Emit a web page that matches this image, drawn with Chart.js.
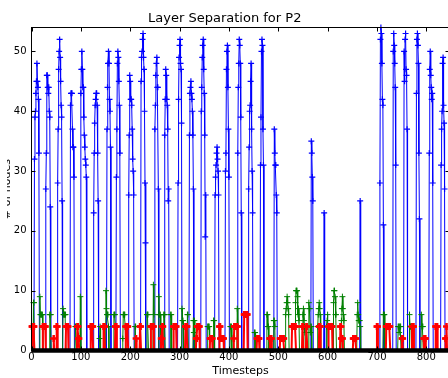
<!DOCTYPE html>
<html>
<head>
<meta charset="utf-8">
<script src="https://cdn.jsdelivr.net/npm/chart.js@4.4.1/dist/chart.umd.min.js"></script>
<style>
  html, body { margin: 0; padding: 0; overflow: hidden; background: #fff; }
  canvas { display: block; }
</style>
</head>
<body>
<canvas id="chart" width="452" height="378"></canvas>
<script>
const FONT = '"DejaVu Sans", "Liberation Sans", sans-serif';
const xMax = 847;
const yMax = 54;
const xTickValues = [0, 100, 200, 300, 400, 500, 600, 700, 800];
const yTickValues = [0, 10, 20, 30, 40, 50];
const yLabel = '# of nodes';

// each run starts at the given timestep and falls back to 0 after its last value
const blueStarts = [6, 29, 53, 79, 100, 126, 153, 172, 197, 222, 250, 270, 297, 320, 344,
  372, 393, 418, 440, 464, 492, 567, 593, 666, 706, 733, 755, 780, 806, 830];
const blueRuns = [
  [32, 39, 40, 43, 45, 48, 45, 44, 42, 33],
  [27, 33, 46, 46, 44, 43, 44, 40, 39, 24],
  [28, 37, 47, 50, 52, 49, 45, 41, 39, 25],
  [41, 43, 43, 43, 37, 34, 34, 29],
  [43, 47, 50, 47, 44, 44, 39, 36, 34, 32, 31, 29],
  [23, 33, 38, 41, 42, 43, 43, 41, 33, 25],
  [37, 44, 48, 50, 48, 42, 40, 34],
  [29, 37, 48, 50, 49, 45, 41, 33],
  [26, 36, 46, 45, 42, 42, 41, 37, 32, 30, 26],
  [45, 49, 50, 52, 53, 49, 47, 40, 28, 18],
  [37, 41, 46, 48, 49, 44, 44, 27],
  [36, 42, 47, 46, 42, 41, 37, 25, 27],
  [28, 42, 49, 51, 52, 48, 47, 38],
  [36, 43, 44, 45, 43, 42, 40, 36, 27],
  [40, 44, 49, 51, 52, 47, 43, 36, 19, 26],
  [26, 29, 31, 33, 34, 32, 30, 26],
  [30, 33, 47, 50, 51, 44, 37, 29],
  [33, 44, 48, 52, 51, 48, 39, 23],
  [27, 34, 40, 41, 45, 48, 37, 30, 23],
  [31, 39, 50, 52, 51, 37, 31],
  [37, 33, 31, 31, 26, 23],
  [35, 33, 29, 25],
  [23],
  [25],
  [28, 52, 54, 53, 48, 42, 41, 21],
  [50, 53, 51, 48, 44, 31],
  [50, 45, 52, 53, 47, 46, 37],
  [43, 52, 53, 51, 48, 33, 22],
  [33, 47, 50, 46, 44, 42, 43, 28],
  [31, 37, 40, 48, 49, 41, 38, 27]
];

const greenStarts = [4, 17, 37, 64, 89, 99, 138, 151, 167, 185, 210, 234, 247, 258, 268, 282,
  305, 316, 328, 357, 369, 403, 417, 452, 477, 491, 515, 535, 550, 562, 580, 598, 612, 628,
  660, 713, 743, 766, 790];
const greenRuns = [
  [8, 8], [9, 6, 6, 6, 6, 6], [6, 6, 6], [7, 6, 6, 6, 6, 6], [4, 4], [9], [2, 4],
  [10, 7, 6, 6, 6, 4], [6, 6, 6, 4], [2, 6, 6, 6, 6, 4], [4, 4], [6, 6, 6], [11, 6],
  [9, 6, 6, 6], [6, 6, 6], [6, 6], [7, 5, 5], [6, 6], [5, 3, 5], [4, 4, 4, 4], [5, 5],
  [4, 4, 4], [7, 4], [3, 3], [6, 6, 4, 4], [5, 5, 4], [6, 7, 8, 9, 8, 7, 6],
  [8, 10, 10, 10, 9, 6, 7, 5], [6, 7, 5, 4, 3], [8, 7, 7, 3, 4, 4], [4, 6, 7, 8, 7, 6],
  [4, 5, 6], [8, 10, 10, 9, 6, 6], [5, 7, 9, 7, 6, 5], [6, 8, 6, 5, 5, 5, 4], [6, 6, 6],
  [4, 4, 3, 4, 4, 4], [6, 4, 4, 4], [6, 4, 4, 4]
];

const redStarts = [1, 23, 45, 51, 70, 93, 120, 146, 170, 191, 212, 220, 242, 263, 288, 312,
  334, 362, 381, 410, 431, 457, 483, 504, 528, 549, 557, 583, 602, 626, 652, 700, 719, 751,
  771, 795, 819, 839];
const redRuns = [
  [4, 4, 4, 4, 4], [4, 4, 4, 4, 4, 4], [2], [4, 4], [4, 4, 4, 4, 4], [4, 4, 2, 2],
  [4, 4, 4, 4, 4], [4, 4, 4], [4, 4, 4], [4, 4, 4, 4, 4], [2], [4, 4], [4, 4, 4, 4, 4, 4],
  [2, 2, 4, 4], [4, 4, 4, 4, 4, 4], [4, 4, 4, 4], [2, 2, 4, 4, 4, 4, 4], [2, 2, 2, 2, 2],
  [4, 4, 2, 2, 2, 2, 2, 2, 2], [2, 4, 4, 4, 4, 4, 4, 4], [6, 6, 6, 6, 6, 6, 6],
  [2, 2, 2, 2, 2], [2, 2, 2, 2], [2, 2, 2, 2, 2, 2, 2, 2], [4, 4, 4, 4, 4, 4, 4, 4], [4, 4],
  [4, 4], [4, 4, 4], [4, 4, 4, 4, 4, 4, 4, 4], [4, 4, 2, 2, 2], [2, 2, 2, 2, 2, 2], [4, 4],
  [4, 4, 4, 4, 4, 4, 4, 4], [2, 2], [4, 4, 4, 4], [2, 2, 2, 2], [4, 4, 4, 4], [2, 2, 4]
];

const blackX = [0, xMax];
const blackY = [0, 0];

function toPoints(starts, runs) {
  const points = [];
  starts.forEach((start, i) => {
    points.push({ x: start - 1, y: 0 });
    runs[i].forEach((value, j) => points.push({ x: start + j, y: value }));
    points.push({ x: start + runs[i].length, y: 0 });
  });
  return points;
}

function markerRadius(size) {
  return (ctx) => (ctx.raw && ctx.raw.y === 0 ? 0 : size);
}

function series(color, points, lineWidth, size, markerWidth) {
  return {
    data: points,
    borderColor: color,
    backgroundColor: color,
    borderWidth: lineWidth,
    pointStyle: 'cross',
    pointRadius: markerRadius(size),
    pointHoverRadius: 0,
    pointBorderColor: color,
    pointBorderWidth: markerWidth,
    tension: 0,
    fill: false,
    clip: 6
  };
}

const frameTicks = {
  id: 'frameTicks',
  afterDatasetsDraw(chart) {
    const { ctx, chartArea: a, scales: { x, y } } = chart;
    ctx.save();
    ctx.strokeStyle = '#000';
    ctx.lineWidth = 1;
    ctx.beginPath();
    xTickValues.forEach((v) => {
      const px = Math.round(x.getPixelForValue(v)) + 0.5;
      ctx.moveTo(px, a.bottom);
      ctx.lineTo(px, a.bottom - 4);
      ctx.moveTo(px, a.top);
      ctx.lineTo(px, a.top + 4);
    });
    yTickValues.forEach((v) => {
      const py = Math.round(y.getPixelForValue(v)) + 0.5;
      ctx.moveTo(a.left, py);
      ctx.lineTo(a.left + 4, py);
      ctx.moveTo(a.right, py);
      ctx.lineTo(a.right - 4, py);
    });
    ctx.stroke();
    ctx.strokeRect(a.left, a.top, a.right - a.left, a.bottom - a.top);
    ctx.restore();
  },
  afterDraw(chart) {
    const { ctx, chartArea: a } = chart;
    ctx.save();
    ctx.beginPath();
    ctx.rect(7, a.top, 5, a.bottom - a.top);
    ctx.clip();
    ctx.translate(10, (a.top + a.bottom) / 2);
    ctx.rotate(-Math.PI / 2);
    ctx.font = '11px ' + FONT;
    ctx.fillStyle = '#000';
    ctx.textAlign = 'center';
    ctx.textBaseline = 'alphabetic';
    ctx.fillText(yLabel, 0, 0);
    ctx.restore();
  }
};

new Chart(document.getElementById('chart'), {
  type: 'line',
  data: {
    datasets: [
      {
        data: blackX.map((x, i) => ({ x, y: blackY[i] })),
        borderColor: '#000',
        borderWidth: 4.5,
        pointRadius: 0,
        pointHoverRadius: 0,
        tension: 0,
        fill: false,
        clip: 6
      },
      series('#ff0000', toPoints(redStarts, redRuns), 2, 3.5, 2.5),
      series('#008000', toPoints(greenStarts, greenRuns), 1, 3, 1),
      series('#0000ff', toPoints(blueStarts, blueRuns), 1, 3, 1.2)
    ]
  },
  options: {
    responsive: false,
    animation: false,
    events: [],
    layout: { padding: { top: 0, right: 2.5, bottom: 0, left: 0 } },
    plugins: {
      legend: { display: false },
      tooltip: { enabled: false },
      title: {
        display: true,
        text: 'Layer Separation for P2',
        color: '#000',
        font: { family: FONT, size: 13, weight: 'normal' },
        padding: { top: 10.5, bottom: 1.4 }
      }
    },
    scales: {
      x: {
        type: 'linear',
        min: 0,
        max: xMax,
        grid: { display: false, drawTicks: false },
        border: { display: false },
        afterBuildTicks: (scale) => { scale.ticks = xTickValues.map((value) => ({ value })); },
        afterFit: (scale) => { scale.height = 27.5; },
        ticks: { color: '#000', font: { family: FONT, size: 10 }, padding: 1, maxRotation: 0, autoSkip: false },
        title: { display: true, text: 'Timesteps', color: '#000', font: { family: FONT, size: 11 }, padding: 0 }
      },
      y: {
        type: 'linear',
        min: 0,
        max: yMax,
        grid: { display: false, drawTicks: false },
        border: { display: false },
        afterBuildTicks: (scale) => { scale.ticks = yTickValues.map((value) => ({ value })); },
        afterFit: (scale) => { scale.width = 31.5; },
        ticks: { color: '#000', font: { family: FONT, size: 10 }, padding: 5 }
      }
    }
  },
  plugins: [frameTicks]
});
</script>
</body>
</html>
